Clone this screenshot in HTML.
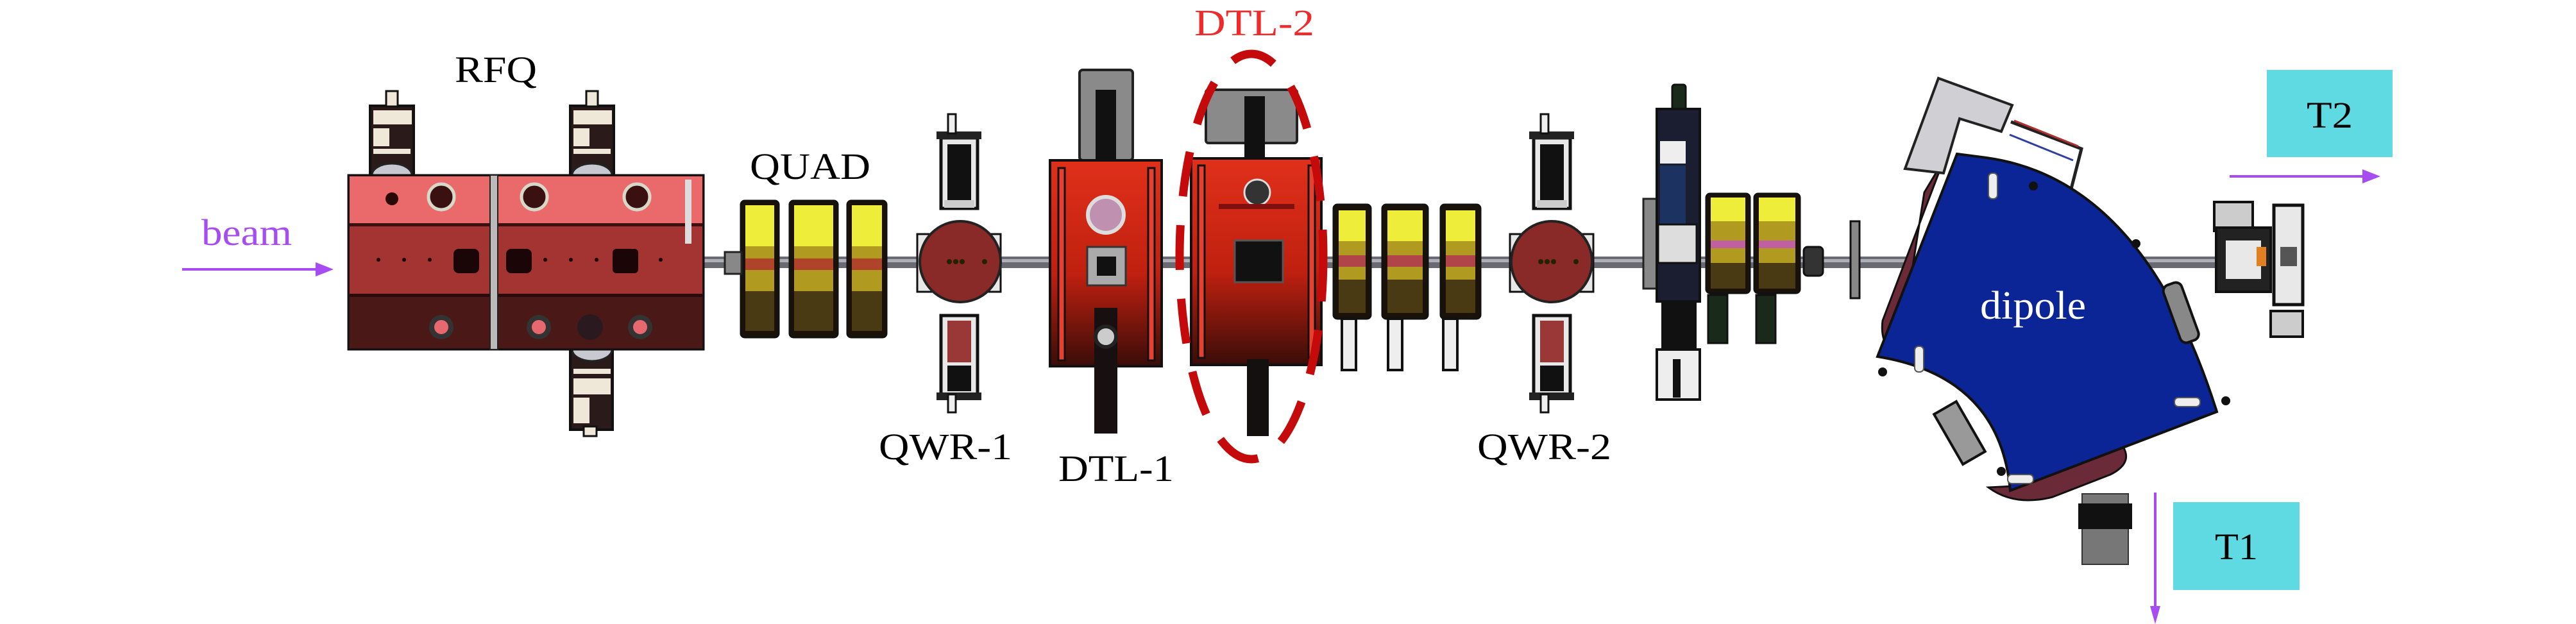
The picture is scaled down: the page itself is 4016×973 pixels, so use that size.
<!DOCTYPE html>
<html><head><meta charset="utf-8"><style>
html,body{margin:0;padding:0;background:#fff;}
svg{display:block;}
text{font-family:"Liberation Serif",serif;}
</style></head><body>
<svg width="4016" height="973" viewBox="0 0 4016 973" xmlns="http://www.w3.org/2000/svg">
<defs>
<linearGradient id="dtl" x1="0" y1="0" x2="0" y2="1">
<stop offset="0" stop-color="#e0301a"/><stop offset="0.55" stop-color="#c02010"/><stop offset="1" stop-color="#3a0c08"/>
</linearGradient>
</defs>

<!-- beam pipe -->
<rect x="1090" y="400" width="2380" height="18" fill="#6a6a72"/>
<rect x="1090" y="404" width="2380" height="5" fill="#b0b0b8"/>

<!-- RFQ towers -->
<g fill="#2a1a1a" stroke="#111" stroke-width="4">
<rect x="577" y="165" width="68" height="108"/>
<rect x="889" y="165" width="68" height="108"/>
<rect x="889" y="545" width="66" height="125"/>
</g>
<g fill="#efe8d8">
<rect x="582" y="172" width="60" height="22"/><rect x="582" y="200" width="25" height="28"/><rect x="582" y="232" width="58" height="8"/>
<rect x="894" y="172" width="60" height="22"/><rect x="894" y="200" width="25" height="28"/><rect x="894" y="232" width="58" height="8"/>
<rect x="894" y="590" width="58" height="25"/><rect x="894" y="620" width="25" height="40"/><rect x="894" y="575" width="58" height="8"/>
</g>
<rect x="602" y="142" width="18" height="24" fill="#efe8d8" stroke="#111" stroke-width="3"/>
<rect x="914" y="142" width="18" height="24" fill="#efe8d8" stroke="#111" stroke-width="3"/>
<rect x="910" y="665" width="20" height="15" fill="#efe8d8" stroke="#111" stroke-width="3"/>
<path d="M580,273 A31,18 0 0 1 642,273 Z" fill="#c8c8d0" stroke="#222" stroke-width="3"/>
<path d="M892,273 A31,18 0 0 1 954,273 Z" fill="#c8c8d0" stroke="#222" stroke-width="3"/>
<path d="M892,545 A31,18 0 0 0 954,545 Z" fill="#c8c8d0" stroke="#222" stroke-width="3"/>

<!-- RFQ body -->
<rect x="543" y="273" width="554" height="272" fill="#3a1212" stroke="#111" stroke-width="3"/>
<rect x="545" y="275" width="550" height="75" fill="#ea6a6c"/>
<rect x="545" y="350" width="550" height="110" fill="#a33432"/>
<rect x="545" y="460" width="550" height="83" fill="#4a1816"/>
<rect x="545" y="348" width="550" height="5" fill="#3a1010"/>
<rect x="545" y="458" width="550" height="5" fill="#2a0a0a"/>
<rect x="764" y="273" width="12" height="272" fill="#bbb" stroke="#222" stroke-width="2"/>
<rect x="1068" y="280" width="10" height="100" fill="#ddd"/>
<g fill="#3a1010" stroke="#d8d8c8" stroke-width="5">
<circle cx="688" cy="307" r="20"/><circle cx="833" cy="307" r="20"/><circle cx="993" cy="307" r="20"/>
</g>
<circle cx="611" cy="310" r="10" fill="#2a0808"/>
<g fill="#e86870" stroke="#333" stroke-width="8">
<circle cx="688" cy="510" r="15"/><circle cx="840" cy="510" r="15"/><circle cx="998" cy="510" r="15"/>
</g>
<circle cx="920" cy="510" r="20" fill="#2a1a20"/>
<rect x="707" y="388" width="40" height="38" rx="8" fill="#1a0606"/>
<rect x="789" y="388" width="40" height="38" rx="8" fill="#1a0606"/>
<rect x="955" y="388" width="40" height="38" rx="6" fill="#1a0606"/>
<g fill="#1a0606"><circle cx="590" cy="405" r="3"/><circle cx="630" cy="405" r="3"/><circle cx="670" cy="405" r="3"/><circle cx="850" cy="405" r="3"/><circle cx="890" cy="405" r="3"/><circle cx="930" cy="405" r="3"/><circle cx="1030" cy="405" r="3"/></g>

<!-- first quads -->
<g>
<rect x="1155" y="313" width="59" height="213" rx="6" fill="#1a1208" stroke="#111" stroke-width="3"/>
<rect x="1231" y="313" width="75" height="213" rx="6" fill="#1a1208" stroke="#111" stroke-width="3"/>
<rect x="1321" y="313" width="61" height="213" rx="6" fill="#1a1208" stroke="#111" stroke-width="3"/>
<rect x="1162" y="320" width="45" height="64" fill="#eeee3a"/>
<rect x="1238" y="320" width="61" height="64" fill="#eeee3a"/>
<rect x="1328" y="320" width="47" height="64" fill="#eeee3a"/>
<rect x="1162" y="384" width="45" height="70" fill="#b09a20"/>
<rect x="1238" y="384" width="61" height="70" fill="#b09a20"/>
<rect x="1328" y="384" width="47" height="70" fill="#b09a20"/>
<rect x="1162" y="403" width="45" height="18" fill="#b0442a"/>
<rect x="1238" y="403" width="61" height="18" fill="#b0442a"/>
<rect x="1328" y="403" width="47" height="18" fill="#b0442a"/>
<rect x="1162" y="454" width="45" height="62" fill="#4a3a14"/>
<rect x="1238" y="454" width="61" height="62" fill="#4a3a14"/>
<rect x="1328" y="454" width="47" height="62" fill="#4a3a14"/>
</g>
<rect x="1130" y="393" width="26" height="34" fill="#888" stroke="#222" stroke-width="3"/>

<!-- QWR-1 -->
<g>
<rect x="1467" y="215" width="57" height="110" fill="#e8e8e8" stroke="#111" stroke-width="5"/>
<rect x="1477" y="225" width="37" height="90" fill="#111"/>
<rect x="1472" y="312" width="47" height="12" fill="#ccc"/>
<rect x="1460" y="205" width="70" height="12" fill="#222"/>
<rect x="1478" y="178" width="12" height="30" fill="#eee" stroke="#111" stroke-width="3"/>
<rect x="1467" y="492" width="57" height="125" fill="#e8e8e8" stroke="#111" stroke-width="5"/>
<rect x="1477" y="500" width="37" height="65" fill="#9a3838"/>
<rect x="1477" y="570" width="37" height="40" fill="#111"/>
<rect x="1460" y="612" width="70" height="12" fill="#222"/>
<rect x="1478" y="615" width="12" height="28" fill="#eee" stroke="#111" stroke-width="3"/>
<rect x="1430" y="365" width="130" height="90" fill="#e8e8e8" stroke="#111" stroke-width="3"/>
<circle cx="1497" cy="408" r="63" fill="#8a2a28" stroke="#222" stroke-width="4"/>
<g fill="#220"><circle cx="1480" cy="408" r="4"/><circle cx="1490" cy="408" r="4"/><circle cx="1500" cy="408" r="4"/><circle cx="1535" cy="408" r="4"/></g>
</g>

<!-- DTL-1 -->
<rect x="1683" y="109" width="83" height="141" rx="5" fill="#8a8a8a" stroke="#222" stroke-width="4"/>
<rect x="1708" y="140" width="32" height="140" fill="#111"/>
<rect x="1637" y="250" width="174" height="321" fill="url(#dtl)" stroke="#111" stroke-width="4"/>
<rect x="1650" y="262" width="10" height="300" fill="#e84030" stroke="#111" stroke-width="3"/>
<rect x="1790" y="262" width="10" height="300" fill="#e84030" stroke="#111" stroke-width="3"/>
<circle cx="1724" cy="335" r="28" fill="#c090b0" stroke="#ddd" stroke-width="6"/>
<rect x="1695" y="385" width="60" height="60" fill="#aaa" stroke="#333" stroke-width="3"/>
<rect x="1710" y="400" width="30" height="30" fill="#111"/>
<rect x="1706" y="480" width="36" height="196" fill="#181010"/>
<circle cx="1724" cy="525" r="16" fill="#ccc" stroke="#222" stroke-width="6"/>

<!-- DTL-2 -->
<rect x="1880" y="140" width="142" height="83" rx="4" fill="#8a8a8a" stroke="#222" stroke-width="4"/>
<rect x="1940" y="150" width="32" height="110" fill="#111"/>
<rect x="1857" y="247" width="203" height="322" fill="url(#dtl)" stroke="#111" stroke-width="4"/>
<rect x="1868" y="258" width="10" height="300" fill="#e84030" stroke="#111" stroke-width="3"/>
<rect x="2040" y="258" width="10" height="300" fill="#e84030" stroke="#111" stroke-width="3"/>
<circle cx="1960" cy="300" r="20" fill="#333" stroke="#ddd" stroke-width="3"/>
<rect x="1900" y="318" width="118" height="8" fill="#801010"/>
<rect x="1925" y="375" width="75" height="65" fill="#111" stroke="#555" stroke-width="3"/>
<rect x="1944" y="560" width="34" height="120" fill="#141010"/>

<!-- ellipse -->
<ellipse cx="1951" cy="400" rx="112" ry="316" fill="none" stroke="#c40a0a" stroke-width="13" stroke-dasharray="70,45"/>

<!-- second quads -->
<g>
<rect x="2079" y="319" width="58" height="178" rx="6" fill="#1a1208" stroke="#111" stroke-width="3"/>
<rect x="2155" y="319" width="71" height="178" rx="6" fill="#1a1208" stroke="#111" stroke-width="3"/>
<rect x="2246" y="319" width="62" height="178" rx="6" fill="#1a1208" stroke="#111" stroke-width="3"/>
<rect x="2087" y="328" width="42" height="48" fill="#eeee3a"/>
<rect x="2163" y="328" width="55" height="48" fill="#eeee3a"/>
<rect x="2254" y="328" width="46" height="48" fill="#eeee3a"/>
<rect x="2087" y="376" width="42" height="60" fill="#b09a20"/>
<rect x="2163" y="376" width="55" height="60" fill="#b09a20"/>
<rect x="2254" y="376" width="46" height="60" fill="#b09a20"/>
<rect x="2087" y="398" width="42" height="18" fill="#b04448"/>
<rect x="2163" y="398" width="55" height="18" fill="#b04448"/>
<rect x="2254" y="398" width="46" height="18" fill="#b04448"/>
<rect x="2087" y="436" width="42" height="52" fill="#4a3a14"/>
<rect x="2163" y="436" width="55" height="52" fill="#4a3a14"/>
<rect x="2254" y="436" width="46" height="52" fill="#4a3a14"/>
<rect x="2092" y="497" width="22" height="80" fill="#eee" stroke="#111" stroke-width="4"/>
<rect x="2164" y="497" width="22" height="80" fill="#eee" stroke="#111" stroke-width="4"/>
<rect x="2250" y="497" width="22" height="80" fill="#eee" stroke="#111" stroke-width="4"/>
</g>

<!-- QWR-2 -->
<g>
<rect x="2391" y="215" width="57" height="110" fill="#e8e8e8" stroke="#111" stroke-width="5"/>
<rect x="2401" y="225" width="37" height="90" fill="#111"/>
<rect x="2396" y="312" width="47" height="12" fill="#ccc"/>
<rect x="2384" y="205" width="70" height="12" fill="#222"/>
<rect x="2402" y="178" width="12" height="30" fill="#eee" stroke="#111" stroke-width="3"/>
<rect x="2391" y="492" width="57" height="125" fill="#e8e8e8" stroke="#111" stroke-width="5"/>
<rect x="2401" y="500" width="37" height="65" fill="#9a3838"/>
<rect x="2401" y="570" width="37" height="40" fill="#111"/>
<rect x="2384" y="612" width="70" height="12" fill="#222"/>
<rect x="2402" y="615" width="12" height="28" fill="#eee" stroke="#111" stroke-width="3"/>
<rect x="2354" y="365" width="130" height="90" fill="#e8e8e8" stroke="#111" stroke-width="3"/>
<circle cx="2419" cy="408" r="63" fill="#8a2a28" stroke="#222" stroke-width="4"/>
<g fill="#220"><circle cx="2402" cy="408" r="4"/><circle cx="2412" cy="408" r="4"/><circle cx="2422" cy="408" r="4"/><circle cx="2457" cy="408" r="4"/></g>
</g>

<!-- diagnostic column -->
<rect x="2607" y="132" width="21" height="40" rx="4" fill="#1a2a1a" stroke="#111" stroke-width="3"/>
<rect x="2562" y="310" width="24" height="140" fill="#888" stroke="#222" stroke-width="3"/>
<rect x="2583" y="170" width="67" height="300" fill="#1a1e30" stroke="#111" stroke-width="4"/>
<rect x="2588" y="220" width="40" height="35" fill="#eee"/>
<rect x="2588" y="258" width="40" height="100" fill="#1c3260"/>
<rect x="2585" y="350" width="60" height="60" fill="#ddd" stroke="#111" stroke-width="3"/>
<rect x="2590" y="470" width="55" height="75" fill="#111"/>
<rect x="2583" y="545" width="67" height="78" fill="#eee" stroke="#111" stroke-width="4"/>
<rect x="2608" y="560" width="12" height="60" fill="#111"/>
<g>
<rect x="2660" y="302" width="68" height="155" rx="6" fill="#1a1208" stroke="#111" stroke-width="3"/>
<rect x="2735" y="302" width="71" height="155" rx="6" fill="#1a1208" stroke="#111" stroke-width="3"/>
<rect x="2667" y="308" width="54" height="37" fill="#eeee3a"/>
<rect x="2742" y="308" width="57" height="37" fill="#eeee3a"/>
<rect x="2667" y="345" width="54" height="65" fill="#b09a20"/>
<rect x="2742" y="345" width="57" height="65" fill="#b09a20"/>
<rect x="2667" y="375" width="54" height="12" fill="#c060a0"/>
<rect x="2742" y="375" width="57" height="12" fill="#c060a0"/>
<rect x="2667" y="410" width="54" height="40" fill="#4a3a14"/>
<rect x="2742" y="410" width="57" height="40" fill="#4a3a14"/>
<rect x="2663" y="460" width="30" height="75" fill="#1a2a1a" stroke="#111" stroke-width="3"/>
<rect x="2738" y="460" width="30" height="75" fill="#1a2a1a" stroke="#111" stroke-width="3"/>
</g>
<rect x="2812" y="385" width="30" height="45" rx="6" fill="#333" stroke="#111" stroke-width="3"/>
<rect x="2885" y="345" width="14" height="120" fill="#888" stroke="#111" stroke-width="3"/>

<!-- dipole coils -->
<path d="M3030,250 L2935,500 Q2930,540 2960,555 L3000,300 Z" fill="#6a2a38" stroke="#111" stroke-width="3"/>
<path d="M3100,760 Q3140,790 3200,775 L3290,740 Q3330,720 3305,690 L3140,758 Z" fill="#6a2a38" stroke="#111" stroke-width="3"/>
<path d="M3022,122 L3137,164 L3120,205 L3055,185 L3030,270 L2970,263 Z" fill="#d0d0d4" stroke="#222" stroke-width="4"/>
<path d="M3135,190 L3245,232 L3225,310" fill="none" stroke="#222" stroke-width="5"/>
<line x1="3140" y1="188" x2="3240" y2="228" stroke="#b03030" stroke-width="3"/>
<line x1="3133" y1="210" x2="3232" y2="250" stroke="#3040a0" stroke-width="3"/>
<!-- dipole -->
<path d="M3051,240 L3097,246 Q3342,280 3456,642 L3134,765 Q3118,587 2927,556 Z" fill="#0c2596" stroke="#111" stroke-width="4"/>
<g fill="#eee" stroke="#555" stroke-width="2">
<rect x="3100" y="270" width="14" height="40" rx="6"/>
<rect x="2985" y="540" width="14" height="40" rx="6"/>
<rect x="3390" y="620" width="40" height="14" rx="6"/>
<rect x="3130" y="740" width="40" height="14" rx="6"/>
</g>
<g fill="#111"><circle cx="3170" cy="290" r="7"/><circle cx="3330" cy="380" r="7"/><circle cx="3470" cy="625" r="7"/><circle cx="2935" cy="580" r="7"/><circle cx="3120" cy="735" r="7"/></g>
<rect x="3385" y="440" width="30" height="95" rx="10" fill="#888" stroke="#111" stroke-width="4" transform="rotate(-20 3400 487)"/>
<rect x="3035" y="630" width="40" height="90" fill="#999" stroke="#111" stroke-width="4" transform="rotate(-30 3055 675)"/>
<!-- down pipe -->
<path d="M3246,770 L3318,770 L3318,880 L3246,880 Z" fill="#777" stroke="#333" stroke-width="2"/>
<rect x="3240" y="785" width="84" height="40" fill="#111"/>
<!-- right components -->
<rect x="3455" y="395" width="40" height="30" fill="#333"/>
<rect x="3452" y="315" width="60" height="45" fill="#ccc" stroke="#111" stroke-width="4"/>
<rect x="3455" y="355" width="85" height="100" fill="#222" stroke="#111" stroke-width="4"/>
<rect x="3470" y="375" width="55" height="60" fill="#e8e8e8"/>
<rect x="3545" y="320" width="45" height="155" fill="#e8e8e8" stroke="#111" stroke-width="5"/>
<rect x="3555" y="385" width="26" height="30" fill="#555"/>
<rect x="3540" y="485" width="50" height="40" fill="#ccc" stroke="#111" stroke-width="4"/>
<rect x="3518" y="385" width="15" height="30" fill="#e08020"/>

<!-- T boxes -->
<rect x="3534" y="109" width="196" height="136" fill="#5fd9e2"/>
<rect x="3388" y="783" width="197" height="137" fill="#5fd9e2"/>

<!-- arrows -->
<line x1="284" y1="420" x2="508" y2="420" stroke="#a64cf0" stroke-width="4"/>
<path d="M492,409 L520,420 L492,431 Z" fill="#a64cf0"/>
<line x1="3476" y1="275" x2="3700" y2="275" stroke="#a64cf0" stroke-width="4"/>
<path d="M3683,264 L3711,275 L3683,286 Z" fill="#a64cf0"/>
<line x1="3360" y1="768" x2="3360" y2="950" stroke="#a64cf0" stroke-width="4"/>
<path d="M3352,945 L3360,973 L3368,945 Z" fill="#a64cf0"/>

<!-- labels -->
<text x="709" y="128" font-size="58" textLength="128" lengthAdjust="spacingAndGlyphs" fill="#000">RFQ</text>
<text x="314" y="382" font-size="58" textLength="141" lengthAdjust="spacingAndGlyphs" fill="#a64cf0">beam</text>
<text x="1169" y="279" font-size="58" textLength="188" lengthAdjust="spacingAndGlyphs" fill="#000">QUAD</text>
<text x="1370" y="716" font-size="58" textLength="208" lengthAdjust="spacingAndGlyphs" fill="#000">QWR-1</text>
<text x="1650" y="750" font-size="58" textLength="180" lengthAdjust="spacingAndGlyphs" fill="#000">DTL-1</text>
<text x="1862" y="55" font-size="58" textLength="187" lengthAdjust="spacingAndGlyphs" fill="#ee2a2a">DTL-2</text>
<text x="2303" y="716" font-size="58" textLength="209" lengthAdjust="spacingAndGlyphs" fill="#000">QWR-2</text>
<text x="3087" y="497" font-size="62" textLength="165" lengthAdjust="spacingAndGlyphs" fill="#fff">dipole</text>
<text x="3596" y="199" font-size="58" textLength="72" lengthAdjust="spacingAndGlyphs" fill="#000">T2</text>
<text x="3453" y="872" font-size="58" textLength="67" lengthAdjust="spacingAndGlyphs" fill="#000">T1</text>
</svg>
</body></html>
